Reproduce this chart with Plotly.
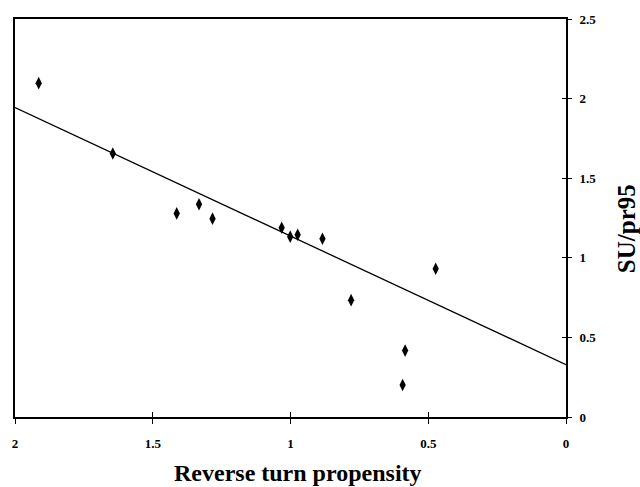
import plotly.graph_objects as go

# Data
turn_propensity = [1.914, 1.645, 1.413, 1.332, 1.283, 1.032, 1.001, 0.974, 0.884, 0.780, 0.584, 0.593, 0.473]
su_pr95 = [2.097, 1.655, 1.279, 1.336, 1.246, 1.189, 1.133, 1.145, 1.120, 0.734, 0.417, 0.201, 0.931]

fit_x = [0.0, 2.0]
fit_y = [0.329, 1.944]

x_ticks = [2, 1.5, 1, 0.5, 0]
x_tick_labels = ["2", "1.5", "1", "0.5", "0"]
y_ticks = [0, 0.5, 1, 1.5, 2, 2.5]
y_tick_labels = ["0", "0.5", "1", "1.5", "2", "2.5"]

x_title = "Reverse turn propensity"
y_title = "SU/pr95"

FONT = "Liberation Serif, Times New Roman, serif"

fig = go.Figure()
fig.add_trace(go.Scatter(x=fit_x, y=fit_y, mode="lines",
                         line=dict(color="black", width=1.3),
                         hoverinfo="skip", showlegend=False))
fig.add_trace(go.Scatter(x=turn_propensity, y=su_pr95, mode="markers",
                         marker=dict(symbol="diamond-tall", size=9, color="black"),
                         showlegend=False))

fig.update_layout(
    width=640, height=487,
    margin=dict(l=14.7, r=73.5, t=18.5, b=69.5, autoexpand=False),
    paper_bgcolor="white", plot_bgcolor="white",
    font=dict(family=FONT, color="black"),
    xaxis=dict(range=[2, 0], tickvals=x_ticks, ticktext=x_tick_labels,
               showgrid=False, zeroline=False,
               showline=True, linecolor="black", linewidth=1.5, mirror=True,
               ticks="outside", ticklen=5, tickwidth=1, tickcolor="black",
               ticklabelstandoff=9,
               tickfont=dict(size=13, family=FONT, weight="bold")),
    yaxis=dict(range=[0, 2.5], tickvals=y_ticks, ticktext=y_tick_labels,
               side="right",
               showgrid=False, zeroline=False,
               showline=True, linecolor="black", linewidth=1.8, mirror=True,
               ticks="outside", ticklen=4, tickwidth=1, tickcolor="black",
               ticklabelstandoff=5,
               tickfont=dict(size=13, family=FONT, weight="bold")),
    xaxis2=dict(range=[2, 0], overlaying="x", side="bottom", anchor="y",
                tickvals=x_ticks, showticklabels=False, showgrid=False,
                zeroline=False, showline=False,
                ticks="inside", ticklen=5, tickwidth=1, tickcolor="black"),
    yaxis2=dict(range=[0, 2.5], overlaying="y", side="right", anchor="x",
                tickvals=y_ticks, showticklabels=False, showgrid=False,
                zeroline=False, showline=False,
                ticks="inside", ticklen=4, tickwidth=1, tickcolor="black"),
    annotations=[
        dict(text=x_title, xref="paper", yref="paper", x=0.514, y=-0.1416,
             xanchor="center", yanchor="middle", showarrow=False,
             font=dict(size=24, family=FONT, weight="bold", color="black")),
        dict(text=y_title, xref="paper", yref="paper", x=1.111, y=0.4724,
             xanchor="center", yanchor="middle", showarrow=False, textangle=-90,
             font=dict(size=25, family=FONT, weight="bold", color="black")),
    ],
)
# dummy trace to activate the secondary axes for inward tick marks
fig.add_trace(go.Scatter(x=[None], y=[None], xaxis="x2", yaxis="y2",
                         showlegend=False, hoverinfo="skip"))

fig.write_html(
    "out.html",
    config={"displayModeBar": False},
    post_script="document.body.style.margin='0';document.body.style.overflow='hidden';",
)
